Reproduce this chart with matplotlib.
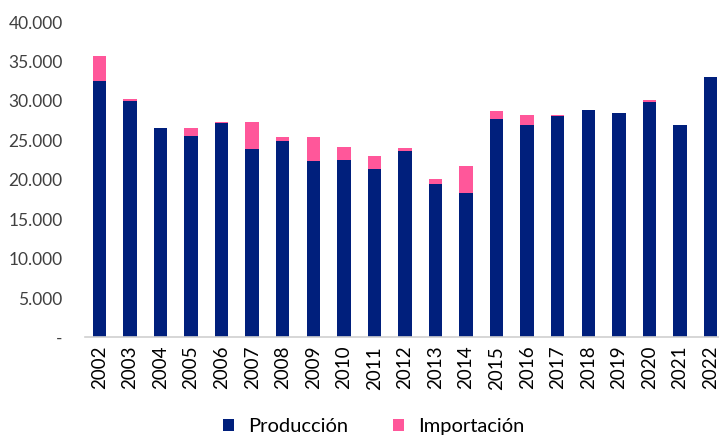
import matplotlib.pyplot as plt
import numpy as np

plt.rcParams['font.family'] = ['Lato', 'DejaVu Sans']

years = [str(y) for y in range(2002, 2023)]
produccion = [32560, 30000, 26500, 25600, 27150, 23950, 24870, 22400, 22550, 21300,
              23700, 19500, 18300, 27660, 27000, 28080, 28900, 28500, 29900, 27000, 33000]
importacion = [3110, 200, 0, 900, 150, 3350, 530, 3000, 1650, 1700,
               370, 650, 3500, 1010, 1160, 80, 0, 0, 200, 0, 0]
yticks = [0, 5000, 10000, 15000, 20000, 25000, 30000, 35000, 40000]
ytick_labels = ['-', '5.000', '10.000', '15.000', '20.000', '25.000', '30.000', '35.000', '40.000']

fig = plt.figure(figsize=(7.19, 4.36), dpi=100)
ax = fig.add_axes([0.118, 0.226, 0.882, 0.7235])

x = np.arange(len(years))
ax.bar(x, produccion, width=0.44, color='#001F7C', label='Producción')
ax.bar(x, importacion, width=0.44, bottom=produccion, color='#FF579A', label='Importación')

ax.set_ylim(0, 40000)
ax.set_xlim(-0.475, 20.28)
ax.set_yticks(yticks)
ax.set_yticklabels(ytick_labels, fontsize=12.5, color='#404040')
ax.set_xticks(x)
ax.set_xticklabels(years, rotation=90, fontsize=13.5, color='#000000')
ax.tick_params(length=0)
ax.tick_params(axis='y', pad=16)
ax.tick_params(axis='x', pad=6)

for s in ['top', 'right', 'left']:
    ax.spines[s].set_visible(False)
ax.spines['bottom'].set_color('#d0d0d0')
ax.spines['bottom'].set_linewidth(1.2)

fig.legend(loc='lower center', bbox_to_anchor=(0.52, -0.04), ncol=2, frameon=False,
           fontsize=14.5, handlelength=0.55, handleheight=0.55, columnspacing=2.2,
           handletextpad=0.7)

fig.savefig('out.png', dpi=100)
